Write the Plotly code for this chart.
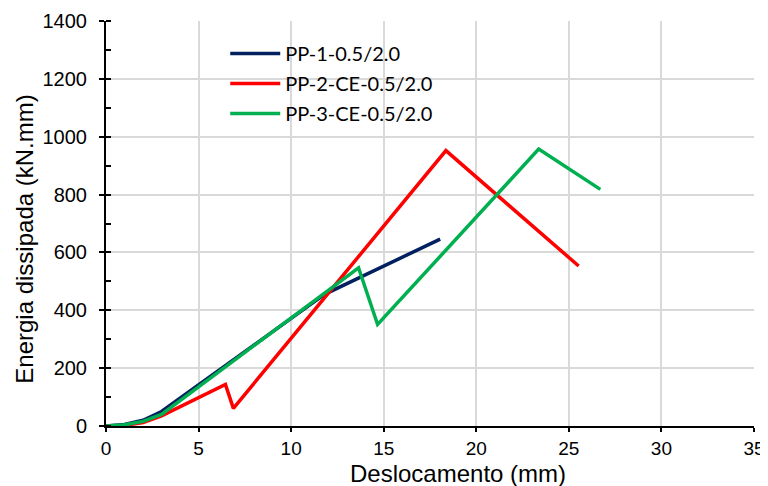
import plotly.graph_objects as go

# Data
pp1_x = [0, 1, 2, 3, 11.8, 18.05]
pp1_y = [0, 5, 20, 50, 455, 646]

pp2_x = [0, 1, 2, 3, 6.45, 6.88, 18.36, 25.53]
pp2_y = [0, 2, 12, 35, 144, 61, 952, 553]

pp3_x = [0, 1, 2, 3, 13.64, 14.67, 23.37, 26.7]
pp3_y = [0, 4, 16, 40, 547, 351, 957, 818]

names = ["PP-1-0.5/2.0", "PP-2-CE-0.5/2.0", "PP-3-CE-0.5/2.0"]
colors = ["#002060", "#FF0000", "#00B050"]

x_ticks = [0, 5, 10, 15, 20, 25, 30, 35]
y_ticks = [0, 200, 400, 600, 800, 1000, 1200, 1400]

x_title = "Deslocamento (mm)"
y_title = "Energia dissipada (kN.mm)"

fig = go.Figure()
for i, (xs, ys, n, c) in enumerate(zip([pp1_x, pp2_x, pp3_x], [pp1_y, pp2_y, pp3_y], names, colors)):
    fig.add_trace(go.Scatter(x=xs, y=ys, mode="lines", name=n, legendgroup=f"g{i}",
                             line=dict(color=c, width=3.5)))

# page body has an 8px margin in the viewer, so the figure is sized to fit
fig.update_layout(
    width=760, height=478,
    margin=dict(l=98, r=14, t=13, b=60),
    paper_bgcolor="white", plot_bgcolor="white",
    font=dict(family="Liberation Sans, Arial, sans-serif", color="black"),
    legend=dict(x=0.184, y=0.968, xanchor="left", yanchor="top",
                bgcolor="rgba(0,0,0,0)", font=dict(size=20, family="Lato, sans-serif"),
                tracegroupgap=1, itemwidth=50),
    showlegend=True,
)
fig.update_xaxes(
    range=[0, 35], tickvals=x_ticks, ticktext=[str(v) for v in x_ticks],
    showgrid=True, gridcolor="#D9D9D9", gridwidth=1.5,
    showline=True, linecolor="black", linewidth=2,
    ticks="outside", ticklen=4, tickcolor="black", tickwidth=1.5,
    tickfont=dict(size=19),
    zeroline=False, automargin=False,
)
fig.update_yaxes(
    range=[0, 1400], tickvals=y_ticks, ticktext=[str(v) for v in y_ticks],
    showgrid=True, gridcolor="#D9D9D9", gridwidth=1.5,
    showline=True, linecolor="black", linewidth=2,
    ticks="outside", ticklen=5, tickcolor="black", tickwidth=1.5,
    tickfont=dict(size=20), ticklabelstandoff=8,
    minor=dict(dtick=100, ticks="inside", ticklen=5, tickcolor="black", tickwidth=1.5, showgrid=False),
    zeroline=False, automargin=False,
)
# axis titles placed as in the reference (slightly off-centre)
fig.add_annotation(text=x_title, xref="paper", yref="paper", x=0.543, y=-0.118,
                   xanchor="center", yanchor="middle", showarrow=False, font=dict(size=24))
fig.add_annotation(text=y_title, xref="paper", yref="paper", x=-0.125, y=0.46,
                   xanchor="center", yanchor="middle", showarrow=False, textangle=-90,
                   font=dict(size=24))

fig.write_html("out.html")
